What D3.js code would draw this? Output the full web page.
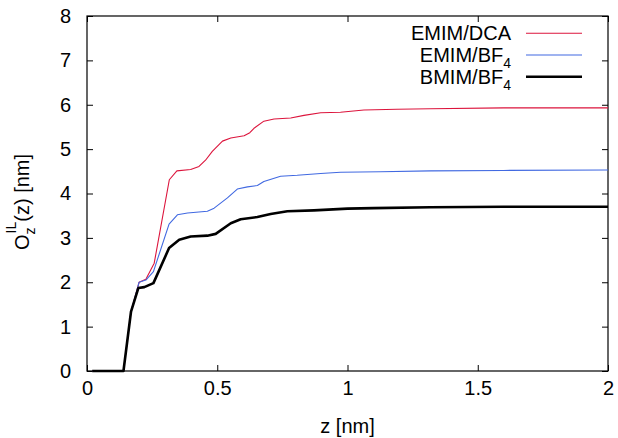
<!DOCTYPE html>
<html>
  <head>
    <meta charset="utf-8">
    <title>O_z^IL(z)</title>
    <script src="https://cdnjs.cloudflare.com/ajax/libs/d3/7.8.5/d3.min.js"></script>
    <style>
      body { margin: 0; background: #fff; }
      text { font-family: "Liberation Sans", Arial, sans-serif; fill: #000; }
    </style>
  </head>
  <body>
    <script>

      // values
      var dcaZ = [0.02, 0.14, 0.169, 0.2, 0.226, 0.258, 0.316, 0.345, 0.398, 0.43, 0.455, 0.481, 0.52, 0.552, 0.603, 0.625, 0.641, 0.679, 0.718, 0.782, 0.833, 0.897, 0.973, 1.063, 1.19, 1.318, 1.6, 2.0];
      var dcaO = [0, 0, 1.34, 2.0, 2.07, 2.43, 4.31, 4.51, 4.54, 4.61, 4.75, 4.95, 5.18, 5.25, 5.3, 5.37, 5.47, 5.63, 5.68, 5.7, 5.76, 5.82, 5.83, 5.88, 5.9, 5.91, 5.93, 5.93];

      var ebfZ = [0.02, 0.14, 0.169, 0.2, 0.226, 0.255, 0.315, 0.347, 0.386, 0.462, 0.488, 0.539, 0.577, 0.616, 0.654, 0.679, 0.743, 0.807, 0.897, 0.973, 1.126, 1.318, 1.6, 2.0];
      var ebfO = [0, 0, 1.34, 2.0, 2.05, 2.24, 3.31, 3.52, 3.56, 3.6, 3.67, 3.9, 4.1, 4.15, 4.18, 4.27, 4.39, 4.41, 4.45, 4.48, 4.49, 4.51, 4.52, 4.53];

      var bbfZ = [0.02, 0.14, 0.169, 0.197, 0.22, 0.255, 0.315, 0.354, 0.398, 0.462, 0.494, 0.552, 0.59, 0.654, 0.705, 0.769, 0.871, 1.0, 1.1, 1.318, 1.6, 2.0];
      var bbfO = [0, 0, 1.34, 1.87, 1.89, 1.98, 2.77, 2.96, 3.03, 3.05, 3.09, 3.33, 3.42, 3.47, 3.54, 3.6, 3.62, 3.66, 3.67, 3.69, 3.70, 3.70];

      var xTicks = [0, 0.5, 1, 1.5, 2];
      var yTicks = [0, 1, 2, 3, 4, 5, 6, 7, 8];

      var outerWidth = 618;
      var outerHeight = 438;
      var margin = { left: 87, top: 16, right: 10, bottom: 67 };
      var innerWidth  = outerWidth  - margin.left - margin.right;
      var innerHeight = outerHeight - margin.top  - margin.bottom;

      var series = [
        { name: "EMIM/DCA", sub: null, z: dcaZ, o: dcaO, color: "#dc143c", width: 1.1 },
        { name: "EMIM/BF", sub: "4", z: ebfZ, o: ebfO, color: "#4169e1", width: 1.1 },
        { name: "BMIM/BF", sub: "4", z: bbfZ, o: bbfO, color: "#000000", width: 2.6 }
      ];

      var svg = d3.select("body").append("svg")
        .attr("width", outerWidth)
        .attr("height", outerHeight);
      var g = svg.append("g")
        .attr("transform", "translate(" + margin.left + "," + margin.top + ")");

      var xScale = d3.scaleLinear().domain([0, 2]).range([0, innerWidth]);
      var yScale = d3.scaleLinear().domain([0, 8]).range([innerHeight, 0]);

      // axes with inward ticks, mirrored on top and right
      function styleAxis(sel) {
        sel.select(".domain").remove();
        sel.selectAll("line").attr("stroke", "#000").attr("stroke-width", 1);
        sel.selectAll("text").style("font-size", "20px");
      }
      function noLabels(sel) {
        sel.selectAll("text").remove();
      }
      var fmt = function (d) { return d3.format("")(d); };

      g.append("g")
        .attr("transform", "translate(0," + innerHeight + ")")
        .call(d3.axisBottom(xScale).tickValues(xTicks).tickSize(-6).tickPadding(10).tickFormat(fmt))
        .call(styleAxis);
      g.append("g")
        .call(d3.axisTop(xScale).tickValues(xTicks).tickSize(-6))
        .call(styleAxis).call(noLabels);
      g.append("g")
        .call(d3.axisLeft(yScale).tickValues(yTicks).tickSize(-6).tickPadding(16).tickFormat(fmt))
        .call(styleAxis);
      g.append("g")
        .attr("transform", "translate(" + innerWidth + ",0)")
        .call(d3.axisRight(yScale).tickValues(yTicks).tickSize(-6))
        .call(styleAxis).call(noLabels);

      g.append("rect")
        .attr("width", innerWidth)
        .attr("height", innerHeight)
        .attr("fill", "none")
        .attr("stroke", "#000")
        .attr("stroke-width", 1.2);

      // curves
      var line = d3.line()
        .x(function (d) { return xScale(d[0]); })
        .y(function (d) { return yScale(d[1]); });

      series.forEach(function (s) {
        g.append("path")
          .datum(d3.zip(s.z, s.o))
          .attr("fill", "none")
          .attr("stroke", s.color)
          .attr("stroke-width", s.width)
          .attr("stroke-linejoin", "round")
          .attr("d", line);
      });

      // legend
      var legend = g.append("g").attr("transform", "translate(0,17.3)");
      series.forEach(function (s, i) {
        var y = i * 21.7;
        var t = legend.append("text")
          .attr("x", 424)
          .attr("y", y + 7)
          .attr("text-anchor", "end")
          .style("font-size", "20px");
        t.append("tspan").text(s.name);
        if (s.sub) {
          t.append("tspan").attr("dy", 6).style("font-size", "14px").text(s.sub);
        }
        legend.append("line")
          .attr("x1", 439).attr("x2", 495)
          .attr("y1", y).attr("y2", y)
          .attr("stroke", s.color)
          .attr("stroke-width", s.width);
      });

      // axis titles
      svg.append("text")
        .attr("x", margin.left + innerWidth / 2)
        .attr("y", 433)
        .attr("text-anchor", "middle")
        .style("font-size", "20px")
        .text("z [nm]");

      var yl = svg.append("text")
        .attr("transform", "translate(29,250) rotate(-90)")
        .attr("text-anchor", "start")
        .style("font-size", "20px");
      yl.append("tspan").text("O");
      yl.append("tspan").attr("dy", 6).style("font-size", "14px").text("z");
      yl.append("tspan").attr("dx", -6).attr("dy", -19).style("font-size", "14px").text("IL");
      yl.append("tspan").attr("dy", 13).text("(z) [nm]");

    </script>
  </body>
</html>
